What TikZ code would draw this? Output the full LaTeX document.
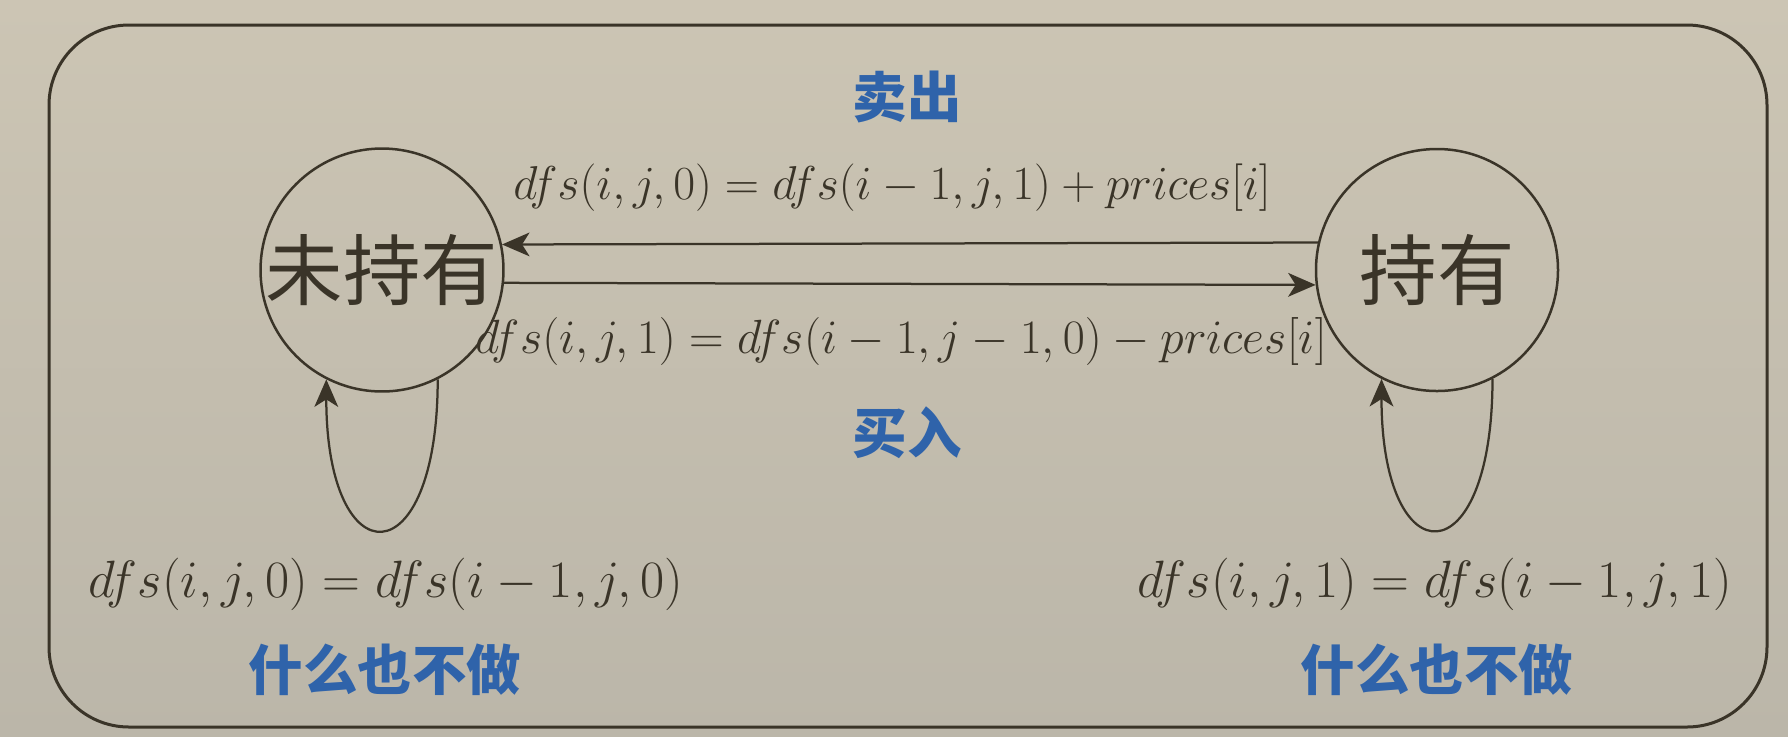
\RequirePackage{fix-cm}
\documentclass[tikz,border=0pt]{standalone}
\usepackage{fontspec}
\newfontfamily\cjk{Noto Sans CJK SC}
\usetikzlibrary{arrows.meta}
\definecolor{bgtop}{HTML}{CCC5B4}
\definecolor{bgbot}{HTML}{BBB6A9}
\definecolor{ink}{HTML}{3A3428}
\definecolor{lblue}{HTML}{2F63AA}
\tikzset{
  state/.style={circle, draw=ink, line width=1pt, minimum size=96.8pt, inner sep=0pt,
    text=ink, font=\cjk\fontsize{31}{31}\selectfont},
  conn/.style={draw=ink, line width=0.9pt, -{Stealth[length=11pt,width=9.5pt,inset=3pt]}},
  formula/.style={text=ink, inner sep=0pt},
  tag/.style={text=lblue, inner sep=0pt, font=\cjk\bfseries\fontsize{21.8}{23}\selectfont}
}
\begin{document}
\begin{tikzpicture}[x=0.4pt,y=-0.4pt]
  \shade[top color=bgtop, bottom color=bgbot] (0,0) rectangle (1788,736);
  \useasboundingbox (0,0) rectangle (1788,736);
  \draw[ink, line width=1.2pt, rounded corners=32pt] (49,25) rectangle (1767,727);
  \node[state] (L) at (382,270) {未持有};
  \node[state] (R) at (1437,270) {持有};
  \draw[conn] (R.167.1) -- (L.12.9);
  \draw[conn] (L.-6.2) -- (R.-173.8);
  \draw[conn] (L.-63) .. controls +(0,200) and +(0,200) .. (L.-117);
  \draw[conn] (R.-63) .. controls +(0,200) and +(0,200) .. (R.-117);
  \node[formula, font=\fontsize{19}{23}\selectfont] (f1) at (892,188) {$dfs(i,j,0) = dfs(i-1,j,1) + prices[i]$};
  \node[formula, font=\fontsize{19.2}{23}\selectfont] (f2) at (901,341) {$dfs(i,j,1) = dfs(i-1,j-1,0) - prices[i]$};
  \node[formula, font=\fontsize{21}{25}\selectfont] (f3) at (386,584) {$dfs(i,j,0) = dfs(i-1,j,0)$};
  \node[formula, font=\fontsize{21}{25}\selectfont] (f4) at (1435,584) {$dfs(i,j,1) = dfs(i-1,j,1)$};
  \node[tag] (sell) at (907,97) {卖出};
  \node[tag] (buy) at (907,433) {买入};
  \node[tag] (n1) at (385,670) {什么也不做};
  \node[tag] (n2) at (1437,670) {什么也不做};
\end{tikzpicture}
\end{document}
